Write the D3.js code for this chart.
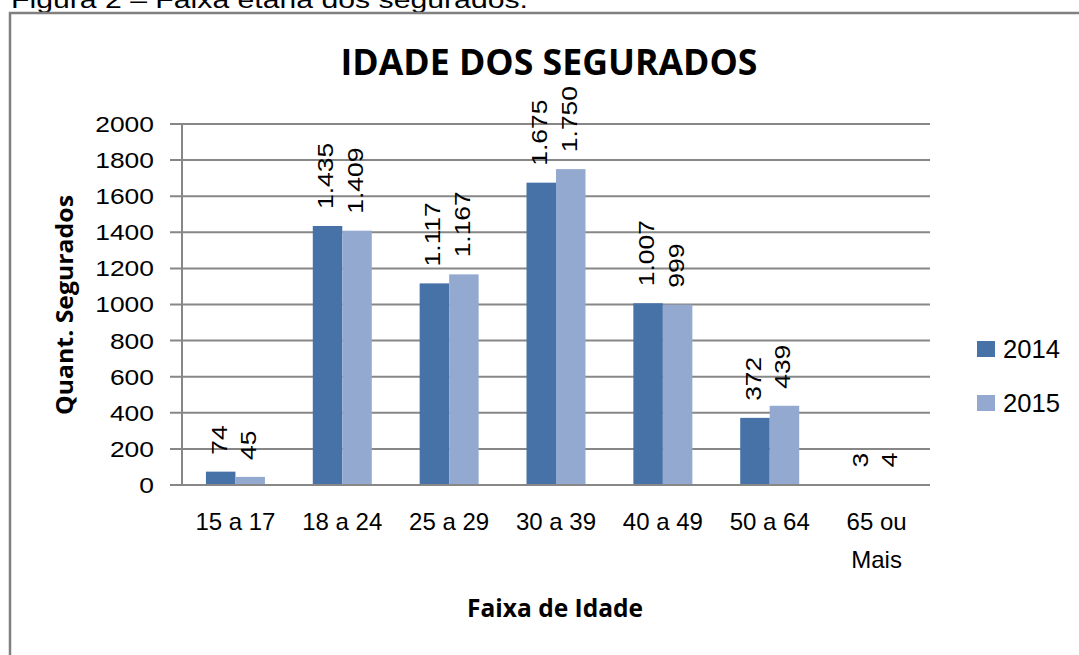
<!doctype html>
<html>

<head>
    <meta charset="utf-8">
    <script src="https://cdnjs.cloudflare.com/ajax/libs/d3/7.8.5/d3.min.js"></script>
    <style>
        body {
            margin: 0;
            background: #fff;
        }

        text {
            font-family: "Liberation Sans", Arial, sans-serif;
            fill: #000;
        }

        .bold {
            font-family: "Open Sans", "DejaVu Sans", sans-serif;
            font-weight: bold;
        }
    </style>
</head>

<body>
    <div id="viz"></div>
    <script>
        // data
        var categories = ["15 a 17", "18 a 24", "25 a 29", "30 a 39", "40 a 49", "50 a 64", "65 ou|Mais"];
        var series = ["2014", "2015"];
        var values2014 = [74, 1435, 1117, 1675, 1007, 372, 3];
        var values2015 = [45, 1409, 1167, 1750, 999, 439, 4];
        var yTicks = [0, 200, 400, 600, 800, 1000, 1200, 1400, 1600, 1800, 2000];
        var colors = ["#4672a8", "#93a9cf"];

        var width = 1079, height = 655;
        var margin = { left: 182, right: 149, top: 124, bottom: 170 };

        var svg = d3.select("#viz").append("svg")
            .attr("width", width)
            .attr("height", height);

        // stretch text horizontally to match the wide raster look
        function stretch(sel, factor) {
            sel.each(function () {
                var len = this.getComputedTextLength();
                d3.select(this).attr("textLength", len * factor).attr("lengthAdjust", "spacingAndGlyphs");
            });
        }

        // caption (cut off at the top, as in the source)
        svg.append("text")
            .attr("x", 11)
            .attr("y", 8)
            .style("font-size", "24px")
            .text("Figura 2 – Faixa etária dos segurados.")
            .attr("textLength", 517)
            .attr("lengthAdjust", "spacingAndGlyphs");

        // frame
        svg.append("rect")
            .attr("x", 10)
            .attr("y", 13)
            .attr("width", 1100)
            .attr("height", 700)
            .attr("fill", "none")
            .attr("stroke", "#808080")
            .attr("stroke-width", 2.5);

        var x0 = d3.scaleBand()
            .domain(categories)
            .range([margin.left, width - margin.right])
            .padding(0);

        var groupW = 59;
        var x1 = d3.scaleBand()
            .domain(series)
            .range([0, groupW]);

        var y = d3.scaleLinear()
            .domain([0, 2000])
            .range([height - margin.bottom, margin.top]);

        // gridlines
        svg.append("g")
            .selectAll("line")
            .data(yTicks)
            .enter()
            .append("line")
            .attr("x1", margin.left - 12)
            .attr("x2", width - margin.right)
            .attr("y1", d => y(d))
            .attr("y2", d => y(d))
            .attr("stroke", "#878787")
            .attr("stroke-width", 2);

        // y axis line
        svg.append("line")
            .attr("x1", margin.left)
            .attr("x2", margin.left)
            .attr("y1", y(0))
            .attr("y2", y(2000))
            .attr("stroke", "#878787")
            .attr("stroke-width", 2);

        // y tick labels
        var yl = svg.append("g").selectAll("text")
            .data(yTicks)
            .enter()
            .append("text")
            .attr("x", 154)
            .attr("y", d => y(d))
            .attr("dy", "0.36em")
            .attr("text-anchor", "end")
            .style("font-size", "22px")
            .text(d => d);
        stretch(yl, 1.2);

        // bars
        var data = categories.map((c, i) => ({ cat: c, vals: [values2014[i], values2015[i]] }));
        var groups = svg.append("g").selectAll("g")
            .data(data)
            .enter()
            .append("g")
            .attr("transform", d => "translate(" + (x0(d.cat) + (x0.bandwidth() - groupW) / 2) + ",0)");

        groups.selectAll("rect")
            .data(d => d.vals.map((v, j) => ({ s: series[j], v: v, j: j })))
            .enter()
            .append("rect")
            .attr("x", d => x1(d.s))
            .attr("width", x1.bandwidth())
            .attr("y", d => y(d.v))
            .attr("height", d => y(0) - y(d.v))
            .attr("fill", d => colors[d.j]);

        // data labels
        var fmt = d3.formatLocale({ decimal: ",", thousands: ".", grouping: [3], currency: ["R$", ""] }).format(",d");
        var labels = groups.selectAll("text.lbl")
            .data(d => d.vals.map((v, j) => ({ s: series[j], v: v, j: j })))
            .enter()
            .append("text")
            .attr("class", "lbl")
            .attr("transform", d => "translate(" + (x1(d.s) + x1.bandwidth() / 2 - 2) + "," + (y(d.v) - 17) + ") rotate(-90)")
            .attr("dy", "0.36em")
            .style("font-size", "22px")
            .text(d => fmt(d.v));
        stretch(labels, 1.2);

        // bottom axis line
        svg.append("line")
            .attr("x1", margin.left)
            .attr("x2", width - margin.right)
            .attr("y1", y(0))
            .attr("y2", y(0))
            .attr("stroke", "#878787")
            .attr("stroke-width", 2);

        // x tick labels
        var xl = svg.append("g").selectAll("text")
            .data(categories)
            .enter()
            .append("text")
            .attr("x", d => x0(d) + x0.bandwidth() / 2)
            .attr("y", 530)
            .attr("text-anchor", "middle")
            .style("font-size", "24px");
        xl.each(function (d) {
            var parts = d.split("|");
            var t = d3.select(this);
            parts.forEach(function (p, k) {
                t.append("tspan")
                    .attr("x", t.attr("x"))
                    .attr("dy", k === 0 ? 0 : 38)
                    .text(p);
            });
        });

        // axis titles
        svg.append("text")
            .attr("class", "bold")
            .attr("x", 555)
            .attr("y", 617)
            .attr("text-anchor", "middle")
            .style("font-size", "25px")
            .attr("textLength", 176)
            .attr("lengthAdjust", "spacingAndGlyphs")
            .text("Faixa de Idade");

        svg.append("text")
            .attr("class", "bold")
            .attr("transform", "translate(73,305) rotate(-90)")
            .attr("text-anchor", "middle")
            .style("font-size", "23px")
            .attr("textLength", 220)
            .attr("lengthAdjust", "spacingAndGlyphs")
            .text("Quant. Segurados");

        // title
        svg.append("text")
            .attr("class", "bold")
            .attr("x", 549)
            .attr("y", 75)
            .attr("text-anchor", "middle")
            .style("font-size", "35px")
            .attr("textLength", 417)
            .attr("lengthAdjust", "spacingAndGlyphs")
            .text("IDADE DOS SEGURADOS");

        // legend
        var legend = svg.append("g").selectAll("g")
            .data(series)
            .enter()
            .append("g")
            .attr("transform", (d, i) => "translate(977," + (341 + i * 54) + ")");

        legend.append("rect")
            .attr("width", 18)
            .attr("height", 16)
            .attr("fill", (d, i) => colors[i]);

        legend.append("text")
            .attr("x", 26)
            .attr("y", 17)
            .style("font-size", "25px")
            .attr("textLength", 57)
            .attr("lengthAdjust", "spacingAndGlyphs")
            .text(d => d);
    </script>
</body>

</html>
